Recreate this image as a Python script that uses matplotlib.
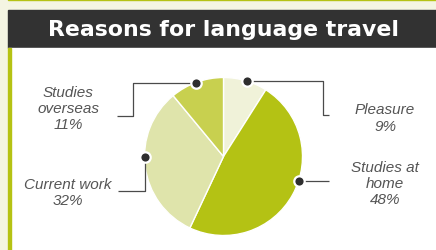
import matplotlib
matplotlib.use("Agg")
import matplotlib.pyplot as plt
import numpy as np

# ---- data ----
categories = ["Pleasure", "Studies at home", "Current work", "Studies overseas"]
labels = ["Pleasure\n9%", "Studies at\nhome\n48%", "Current work\n32%", "Studies\noverseas\n11%"]
values = [9, 48, 32, 11]
title = "Reasons for language travel"

# ---- style / layout ----
W, H = 436, 251
colors = ["#f0f2d9", "#b4c214", "#dfe4ab", "#c8d04f"]
cream = "#f4f5e2"
green = "#b5c213"
dark = "#323232"
text_col = "#555555"
line_col = "#4a4a4a"
cx, cy, R = 223.5, 251 - 157.5, 79.0
anchor_deg = [17, 108, 270, 339.5]     # clockwise from top, label anchors
elbows = [  # leader path after marker (pixel coords, y from top)
    [(323, None), (323, 116), (329, 116)],
    [(329, None)],
    [(None, 192), (118, 192)],
    [(133, None), (133, 117), (117, 117)],
]
text_pos = [(385, 118.5), (385, 184), (68, 193), (68, 109)]

fig = plt.figure(figsize=(W / 100, H / 100), dpi=100)
ax = fig.add_axes([0, 0, 1, 1])

def Y(y):
    return H - y

# pie
wedges, _ = ax.pie(values, colors=colors, startangle=90, counterclock=False,
                   center=(cx, cy), radius=R, frame=True,
                   wedgeprops=dict(edgecolor="white", linewidth=1.0))
ax.set_xlim(0, W)
ax.set_ylim(0, H)
ax.set_aspect("auto")
ax.axis("off")
for w in wedges:
    w.set_zorder(4)

# backgrounds
ax.add_patch(plt.Rectangle((0, 0), W, H, color=cream, zorder=0))
ax.add_patch(plt.Rectangle((8, Y(1.2)), W, 1.2, color=green, zorder=1))
ax.add_patch(plt.Rectangle((8, Y(48.5)), W, 37.5, color=dark, zorder=1))
ax.add_patch(plt.Rectangle((8, 0), W, Y(48.5), color="white", zorder=1))
ax.add_patch(plt.Rectangle((8, 0), 2.6, Y(48.5), color=green, zorder=2))

ax.text((8 + W) / 2 + 1, Y(29.5), title, color="white", fontsize=15.8,
        fontweight="heavy", ha="center", va="center", zorder=3,
        family="DejaVu Sans")

for i, lab in enumerate(labels):
    a = np.deg2rad(90 - anchor_deg[i])
    mx, my = cx + R * np.cos(a), cy + R * np.sin(a)
    xs, ys = [mx], [my]
    for (ex, ey) in elbows[i]:
        nx = xs[-1] if ex is None else ex
        ny = ys[-1] if ey is None else Y(ey)
        xs.append(nx)
        ys.append(ny)
    ax.plot(xs, ys, color=line_col, lw=0.9, zorder=5, solid_capstyle="butt")
    ax.plot([mx], [my], "o", ms=7.5, mfc="#2e2e2e", mec="white", mew=1.6, zorder=6)
    tx, ty = text_pos[i]
    ax.text(tx, Y(ty), lab, ha="center", va="center", fontsize=11,
            style="italic", color=text_col, linespacing=1.22, zorder=6,
            family="Liberation Sans")

fig.savefig("out.png", dpi=100)
